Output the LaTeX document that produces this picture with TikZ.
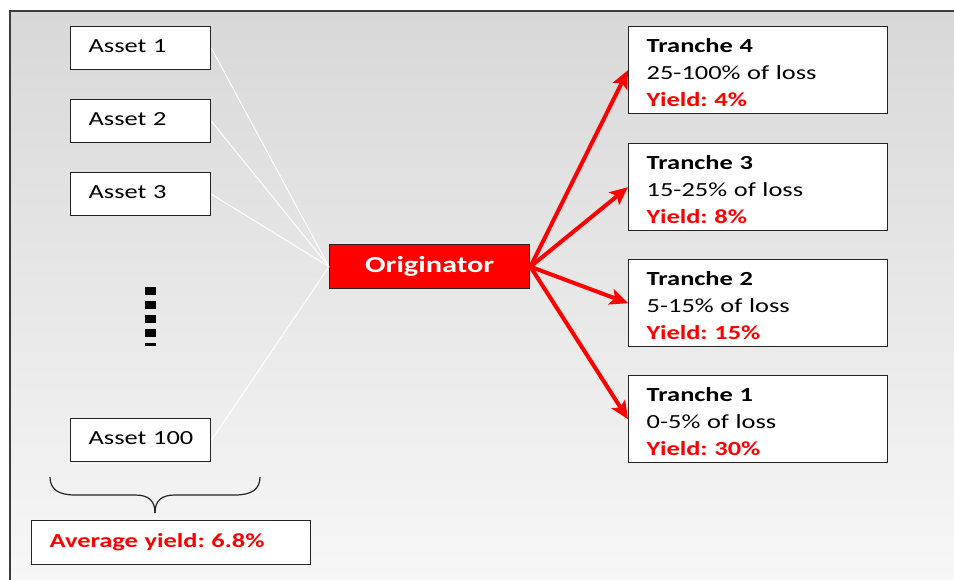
\documentclass[tikz,border=0pt]{standalone}
\usepackage{fontspec}
\setmainfont{Carlito}[FakeStretch=1.32]
\usetikzlibrary{arrows.meta}
\definecolor{bgtop}{RGB}{216,216,216}
\definecolor{bgbot}{RGB}{248,248,248}
\definecolor{frame}{RGB}{60,60,60}
\definecolor{boxline}{RGB}{35,35,35}
\definecolor{myred}{RGB}{255,0,0}
\tikzset{
  assetbox/.style={draw=boxline, line width=1.4pt, fill=white, anchor=north west,
    minimum width=140pt, minimum height=43pt, text width=104pt, inner xsep=18pt, inner ysep=0pt,
    align=left, font=\fontsize{20pt}{24pt}\selectfont\frenchspacing},
  tranchebox/.style={draw=boxline, line width=1.4pt, fill=white, anchor=north west,
    minimum width=259pt, minimum height=87pt, text width=223pt, inner xsep=18pt, inner ysep=0pt,
    align=left, font=\fontsize{20pt}{27pt}\selectfont\frenchspacing},
  avgbox/.style={draw=boxline, line width=1.4pt, fill=white, anchor=north west,
    minimum width=279pt, minimum height=44pt, text width=243pt, inner xsep=18pt, inner ysep=0pt,
    align=left, font=\fontsize{20pt}{24pt}\selectfont\bfseries\frenchspacing, text=myred},
  origbox/.style={draw=boxline, line width=1.4pt, fill=myred, anchor=north west,
    minimum width=200pt, minimum height=44pt, inner sep=0pt,
    font=\fontsize{23pt}{26pt}\selectfont\bfseries, text=white},
  feed/.style={white, line width=1pt},
  redarrow/.style={myred, line width=4pt, -{Stealth[length=18pt,width=16pt,inset=4pt]}},
  bracestyle/.style={draw=boxline, line width=1.2pt},
}
\newcommand{\yld}[1]{\textcolor{myred}{\bfseries Yield: #1}}
\newcommand{\toprl}{\rule{0pt}{19pt}}
\newcommand{\up}[1]{\raisebox{3.5pt}{\mbox{#1}}}
\begin{document}
\begin{tikzpicture}[x=1pt,y=-1pt]
\useasboundingbox (0,0) rectangle (954,580);
\clip (0,0) rectangle (954,580);
\fill[white] (0,0) rectangle (954,580);
\fill[top color=bgtop, bottom color=bgbot] (10,11) rectangle (970,600);
\draw[frame, line width=1.5pt] (10,600) -- (10,11) -- (970,11);

% assets
\node[assetbox] (a1) at (70,26) {\up{Asset 1}};
\node[assetbox] (a2) at (70,99) {\up{Asset 2}};
\node[assetbox] (a3) at (70,172) {\up{Asset 3}};
\node[assetbox] (a100) at (70,418) {\up{Asset 100}};

% originator
\node[origbox] (orig) at (329,244) {Originator};

% feed lines
\foreach \a in {a1,a2,a3,a100} \draw[feed] (\a.east) -- (orig.west);

% dots
\draw[line width=11pt, dash pattern=on 8pt off 6pt] (150.5,287) -- (150.5,346);

% tranches
\node[tranchebox] (t4) at (628,26) {\toprl\textbf{Tranche 4}\\25-100\% of loss\\\yld{4\%}};
\node[tranchebox] (t3) at (628,143) {\toprl\textbf{Tranche 3}\\15-25\% of loss\\\yld{8\%}};
\node[tranchebox] (t2) at (628,259) {\toprl\textbf{Tranche 2}\\5-15\% of loss\\\yld{15\%}};
\node[tranchebox] (t1) at (628,375) {\toprl\textbf{Tranche 1}\\0-5\% of loss\\\yld{30\%}};

\foreach \t in {t4,t3,t2,t1} \draw[redarrow] (orig.east) -- (\t.west);

% brace
\draw[bracestyle] (50,477) .. controls (50,489) and (58,495) .. (75,495) -- (135,495)
  .. controls (149,495) and (155,501) .. (155,513);
\draw[bracestyle] (260,477) .. controls (260,489) and (252,495) .. (235,495) -- (175,495)
  .. controls (161,495) and (155,501) .. (155,513);

% average yield
\node[avgbox] (avg) at (31,520) {\up{Average yield: 6.8\%}};
\end{tikzpicture}
\end{document}
